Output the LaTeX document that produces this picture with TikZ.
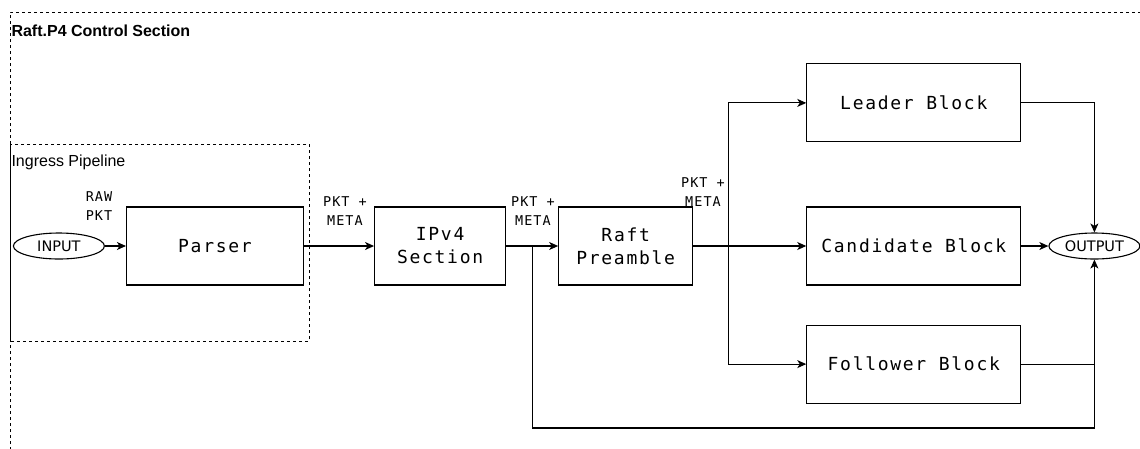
\documentclass[tikz,border=0pt]{standalone}
\usepackage{fontspec}
\setmainfont{Liberation Sans}
\newfontfamily\blkfont[LetterSpace=9.5]{DejaVu Sans Mono}
\newfontfamily\tagfont[LetterSpace=7.5]{DejaVu Sans Mono}
\newfontfamily\portfont{DejaVu Sans}
\usetikzlibrary{arrows.meta,positioning,calc,shapes.geometric}

\begin{document}
\begin{tikzpicture}[
  x=1pt, y=-1pt,
  line width=1.1pt,
  blockbox/.style={draw, align=center, font=\blkfont\fontsize{18}{23}\selectfont,
    minimum height=78pt, inner sep=0pt},
  port/.style={draw, ellipse, font=\portfont\fontsize{14.5}{16}\selectfont,
    minimum width=91pt, minimum height=26pt, inner sep=0pt},
  tag/.style={align=center, font=\tagfont\fontsize{13.5}{19}\selectfont, inner sep=0pt},
  frame/.style={draw, dash pattern=on 3pt off 3pt, line width=0.9pt},
  arr/.style={-{Stealth[length=9pt,width=8pt,inset=2.5pt]}}
]
  \useasboundingbox (0,0) rectangle (1140,448);

  % outer control section (right and bottom edges lie outside)
  \draw[frame] (10,450) -- (10,12) -- (1142,12);
  \node[anchor=west, font=\bfseries\fontsize{16}{18}\selectfont, inner sep=0pt] (ctltitle) at (11,31) {Raft.P4 Control Section};

  % ingress pipeline
  \draw[frame] (10,144) rectangle (309,341);
  \node[anchor=west, font=\fontsize{16}{18}\selectfont, inner sep=0pt] (ingtitle) at (11,162) {Ingress Pipeline};

  \node[blockbox, minimum width=177pt] (parser) at (215,246) {Parser};
  \node[port, left=21pt of parser] (input) {INPUT};
  \node[blockbox, minimum width=131pt, right=70pt of parser] (ipv4) {IPv4\\Section};
  \node[blockbox, minimum width=134pt, right=52pt of ipv4] (pre) {Raft\\Preamble};
  \node[blockbox, minimum width=214pt, right=113pt of pre] (cand) {Candidate Block};
  \node[blockbox, minimum width=214pt, above=64pt of cand] (lead) {Leader Block};
  \node[blockbox, minimum width=214pt, below=39pt of cand] (follow) {Follower Block};
  \node[port, right=27pt of cand] (output) {OUTPUT};

  \node[tag] (rawtag) at (99,206) {RAW\\PKT};
  \node[tag] (tag1) at (345,211) {PKT +\\META};
  \node[tag] (tag2) at (533,211) {PKT +\\META};
  \node[tag] (tag3) at (703,192) {PKT +\\META};

  \coordinate (split1) at ($(ipv4.east)!0.5!(pre.west)$);
  \coordinate (split2) at ($(pre.east)+(35,0)$);
  \coordinate (bus) at (0,428);

  \draw[arr] (input) -- (parser);
  \draw[arr] (parser) -- (ipv4);
  \draw[arr] (ipv4) -- (pre);
  \draw[arr] (pre) -- (cand);
  \draw[arr] (split2) |- (lead.west);
  \draw[arr] (split2) |- (follow.west);
  \draw[arr] (lead.east) -| (output.north);
  \draw[arr] (cand) -- (output);
  \draw (follow.east) -- (follow.east -| output.south);
  \draw[arr] (split1) -- (split1 |- bus) -| (output.south);
\end{tikzpicture}
\end{document}
